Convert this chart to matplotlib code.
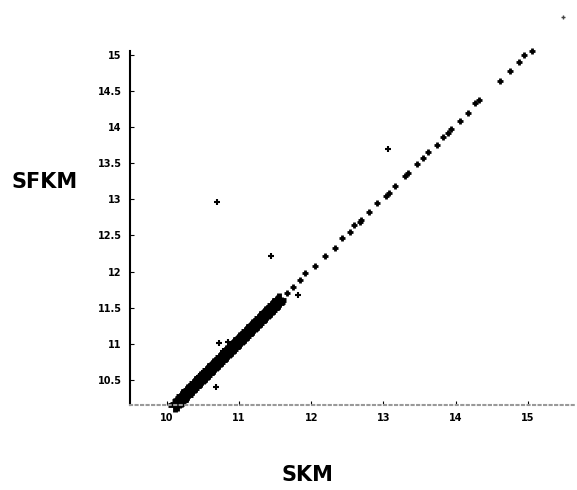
import numpy as np
import matplotlib
matplotlib.use('Agg')
import matplotlib.pyplot as plt

# dense band along the diagonal (SKM, SFKM)
band_x = [10.12, 10.14, 10.17, 10.19, 10.21, 10.23, 10.26, 10.28, 10.30, 10.32,
          10.35, 10.37, 10.39, 10.41, 10.44, 10.46, 10.48, 10.50, 10.53, 10.55,
          10.57, 10.59, 10.62, 10.64, 10.66, 10.68, 10.71, 10.73, 10.75, 10.77,
          10.80, 10.82, 10.84, 10.86, 10.89, 10.91, 10.93, 10.95, 10.98, 11.00,
          11.02, 11.04, 11.07, 11.09, 11.11, 11.13, 11.16, 11.18, 11.20, 11.22,
          11.25, 11.27, 11.29, 11.31, 11.34, 11.36, 11.38, 11.40, 11.43, 11.45,
          11.47, 11.49, 11.52, 11.54, 11.56]
band_y = [10.15, 10.17, 10.20, 10.22, 10.24, 10.27, 10.29, 10.31, 10.34, 10.36,
          10.38, 10.41, 10.43, 10.45, 10.48, 10.50, 10.52, 10.54, 10.57, 10.59,
          10.61, 10.63, 10.66, 10.68, 10.70, 10.72, 10.75, 10.77, 10.79, 10.81,
          10.84, 10.86, 10.88, 10.90, 10.93, 10.95, 10.97, 10.99, 11.02, 11.04,
          11.06, 11.08, 11.11, 11.13, 11.15, 11.17, 11.20, 11.22, 11.24, 11.26,
          11.29, 11.31, 11.33, 11.35, 11.38, 11.40, 11.42, 11.44, 11.47, 11.49,
          11.51, 11.53, 11.56, 11.58, 11.60]

# fringe points just above the band
fringe_x = [10.25, 10.33, 10.45, 10.52, 10.58, 10.65, 10.90, 11.05, 11.20, 11.35, 11.50, 11.55]
fringe_y = [10.33, 10.42, 10.55, 10.62, 10.68, 10.74, 10.99, 11.13, 11.28, 11.44, 11.58, 11.63]

# sparser points on the upper part of the diagonal
upper_x = [11.59, 11.66, 11.75, 11.84, 11.91, 12.05, 12.19, 12.33, 12.42, 12.53,
           12.59, 12.67, 12.69, 12.80, 12.91, 13.03, 13.07, 13.16, 13.30, 13.34,
           13.47, 13.55, 13.61, 13.74, 13.82, 13.90, 13.94, 14.06, 14.17, 14.27,
           14.32, 14.62, 14.75, 14.88, 14.94, 15.05]
upper_y = [11.61, 11.70, 11.79, 11.88, 11.98, 12.07, 12.21, 12.32, 12.46, 12.55,
           12.64, 12.69, 12.71, 12.83, 12.95, 13.05, 13.09, 13.18, 13.32, 13.36,
           13.49, 13.57, 13.65, 13.75, 13.86, 13.92, 13.97, 14.08, 14.19, 14.34,
           14.38, 14.64, 14.78, 14.90, 15.00, 15.06]

# outliers
out_x = [10.70, 11.44, 13.06, 10.68, 11.82, 10.72, 10.85, 10.78]
out_y = [12.97, 12.22, 13.70, 10.40, 11.68, 11.01, 11.02, 10.90]
corner_x = [15.48]
corner_y = [15.53]

xticks = [10, 11, 12, 13, 14, 15]
yticks = [10.5, 11, 11.5, 12, 12.5, 13, 13.5, 14, 14.5, 15]
ytick_labels = ['10.5', '11', '11.5', '12', '12.5', '13', '13.5', '14', '14.5', '15']

fig = plt.figure(figsize=(5.77, 4.90), dpi=100)
ax = fig.add_axes([0.2253, 0.1735, 0.7747, 0.8025])

ax.plot(band_x, band_y, '+', color='k', ms=10, mew=3.5, clip_on=False)
ax.plot(fringe_x, fringe_y, '+', color='k', ms=5, mew=1.5, clip_on=False)
ax.plot(upper_x, upper_y, '+', color='k', ms=5, mew=2, clip_on=False)
ax.plot(out_x, out_y, '+', color='k', ms=5, mew=1.5, clip_on=False)
ax.plot(corner_x, corner_y, '+', color='#444444', ms=3, mew=1, clip_on=False)

ax.set_xlim(9.49, 15.68)
ax.set_ylim(10.15, 15.6)
ax.set_xticks(xticks)
ax.set_xticklabels([str(t) for t in xticks], fontsize=7, fontweight='bold')
ax.set_yticks(yticks)
ax.set_yticklabels(ytick_labels, fontsize=7, fontweight='bold')
ax.tick_params(direction='in', length=3, width=0.8, pad=6)

ax.spines['top'].set_visible(False)
ax.spines['right'].set_visible(False)
ax.spines['left'].set_linewidth(1.5)
ax.spines['left'].set_bounds(10.15, 15.05)
ax.spines['bottom'].set_color('#999999')
ax.spines['bottom'].set_linestyle(':')
ax.spines['bottom'].set_linewidth(1.5)

fig.text(45 / 577, 1 - 182 / 490, 'SFKM', fontsize=15, fontweight='bold',
         ha='center', va='center')
fig.text(307 / 577, 1 - 475 / 490, 'SKM', fontsize=15, fontweight='bold',
         ha='center', va='center')

fig.savefig('out.png', dpi=100)
